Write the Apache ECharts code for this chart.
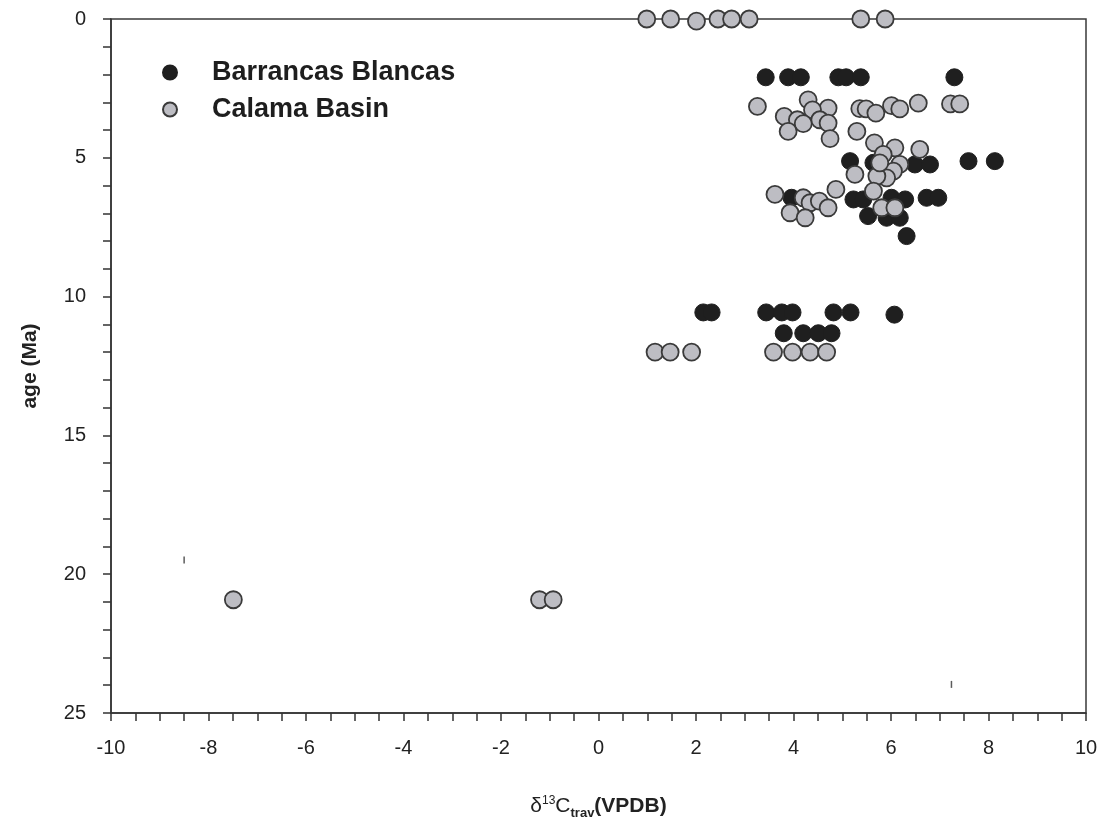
<!DOCTYPE html>
<html>
<head>
<meta charset="utf-8">
<script src="https://cdn.jsdelivr.net/npm/echarts@6/dist/echarts.min.js"></script>
<style>
  html, body { margin: 0; padding: 0; background: #fff; }
  #chart { width: 1102px; height: 838px; }
</style>
</head>
<body>
<div id="chart"></div>
<script>
// Barrancas Blancas (black dots): d13C and age
var bbX = [3.43, 3.89, 4.15, 4.92, 5.08, 5.38, 7.30,
           5.16, 5.64, 6.49, 6.80, 7.59, 8.13,
           3.96, 5.23, 5.43, 6.01, 6.29, 6.73, 6.97,
           5.53, 5.91, 6.18, 6.32,
           2.15, 2.32, 3.44, 3.76, 3.98, 4.82, 5.17, 6.07,
           3.80, 4.20, 4.51, 4.78];
var bbY = [2.1, 2.1, 2.1, 2.1, 2.1, 2.1, 2.1,
           5.12, 5.18, 5.24, 5.24, 5.12, 5.12,
           6.44, 6.5, 6.5, 6.44, 6.5, 6.44, 6.44,
           7.1, 7.16, 7.16, 7.82,
           10.57, 10.57, 10.57, 10.57, 10.57, 10.57, 10.57, 10.65,
           11.32, 11.32, 11.32, 11.32];

// Calama Basin (grey dots)
var cbX = [0.99, 1.48, 2.01, 2.45, 2.73, 3.09, 5.38, 5.88,
           3.26, 3.81, 4.30, 4.71, 4.08, 4.39, 4.20, 4.54, 4.71, 3.89, 4.75,
           5.36, 5.49, 5.69, 6.01, 6.18, 6.56, 7.22, 7.41,
           5.30, 5.66, 6.08, 6.59, 5.84, 6.18, 6.05, 5.91, 5.71, 5.26, 5.77,
           4.87, 5.64, 3.62, 4.20, 4.34, 4.53, 4.71, 3.93, 4.24, 5.81, 6.08,
           1.16, 1.47, 1.91, 3.59, 3.98, 4.34, 4.68,
           -7.49, -1.21, -0.93];
var cbY = [0, 0, 0.08, 0, 0, 0, 0, 0,
           3.15, 3.51, 2.91, 3.21, 3.63, 3.27, 3.77, 3.63, 3.75, 4.05, 4.31,
           3.23, 3.24, 3.39, 3.12, 3.24, 3.03, 3.06, 3.06,
           4.05, 4.46, 4.64, 4.70, 4.88, 5.24, 5.48, 5.72, 5.66, 5.60, 5.18,
           6.14, 6.20, 6.32, 6.44, 6.62, 6.56, 6.80, 6.98, 7.16, 6.80, 6.80,
           12.0, 12.0, 12.0, 12.0, 12.0, 12.0, 12.0,
           20.92, 20.92, 20.92];

// small stray marks in the plot
var markX = [-8.50, 7.24];
var markY = [19.49, 23.97];

function zip(xs, ys) {
    var out = [];
    for (var i = 0; i < xs.length; i++) {
        out.push([xs[i], ys[i]]);
    }
    return out;
}

var myChart = echarts.init(document.getElementById('chart'));

var labelFont = 'Liberation Sans';

var option = {
    animation: false,
    backgroundColor: '#fff',
    textStyle: { fontFamily: labelFont },
    grid: {
        left: 111,
        top: 19,
        right: 16,
        bottom: 125,
        show: true,
        borderColor: '#3a3a3a',
        borderWidth: 1.5
    },
    legend: {
        orient: 'vertical',
        left: 157,
        top: 54,
        itemWidth: 14,
        itemHeight: 14,
        itemGap: 10,
        data: ['Barrancas Blancas', 'Calama Basin'],
        icon: 'circle',
        textStyle: {
            fontFamily: labelFont,
            fontSize: 27,
            fontWeight: 'bold',
            color: '#1e1e1e',
            padding: [0, 0, 0, 30]
        }
    },
    xAxis: {
        type: 'value',
        min: -10,
        max: 10,
        interval: 0.5,
        splitLine: { show: false },
        axisLine: { show: true, onZero: false, lineStyle: { color: '#333', width: 1.5 } },
        axisTick: { show: true, length: 8, lineStyle: { color: '#333', width: 1.5 } },
        axisLabel: {
            fontSize: 20,
            color: '#222',
            margin: 25,
            formatter: function (v) {
                return (Math.abs(v % 2) < 1e-9) ? String(v) : '';
            }
        },
        name: '{d|δ}{sup|13}{d|C}{sub|trav}{b|(VPDB)}',
        nameLocation: 'middle',
        nameGap: 80,
        nameTextStyle: {
            rich: {
                d: { fontSize: 21, color: '#222', fontFamily: labelFont },
                sup: { fontSize: 12, color: '#222', fontFamily: labelFont, padding: [0, 0, 12, 0] },
                sub: { fontSize: 13, color: '#222', fontWeight: 'bold', fontFamily: labelFont, padding: [14, 0, 0, 0] },
                b: { fontSize: 21, color: '#222', fontWeight: 'bold', fontFamily: labelFont }
            }
        }
    },
    yAxis: {
        type: 'value',
        inverse: true,
        min: 0,
        max: 25,
        interval: 1,
        splitLine: { show: false },
        axisLine: { show: true, onZero: false, lineStyle: { color: '#333', width: 1.5 } },
        axisTick: { show: true, length: 8, lineStyle: { color: '#333', width: 1.5 } },
        axisLabel: {
            fontSize: 20,
            color: '#222',
            margin: 25,
            formatter: function (v) {
                return (v % 5 === 0) ? String(v) : '';
            }
        },
        name: 'age (Ma)',
        nameLocation: 'middle',
        nameGap: 70,
        nameTextStyle: { fontSize: 21, fontWeight: 'bold', color: '#222', fontFamily: labelFont }
    },
    series: [
        {
            name: 'Barrancas Blancas',
            type: 'scatter',
            clip: false,
            symbol: 'circle',
            symbolSize: 17,
            itemStyle: { color: '#1f1f1f', borderColor: '#1f1f1f', borderWidth: 1, opacity: 1 },
            data: zip(bbX, bbY)
        },
        {
            name: 'Calama Basin',
            type: 'scatter',
            clip: false,
            symbol: 'circle',
            symbolSize: 17,
            itemStyle: { color: '#bdbdc3', borderColor: '#3a3a3a', borderWidth: 1.8, opacity: 1 },
            data: zip(cbX, cbY)
        },
        {
            name: 'marks',
            type: 'scatter',
            symbol: 'rect',
            symbolSize: [1.5, 7],
            itemStyle: { color: '#333' },
            silent: true,
            data: zip(markX, markY)
        }
    ]
};

myChart.setOption(option);
</script>
</body>
</html>
